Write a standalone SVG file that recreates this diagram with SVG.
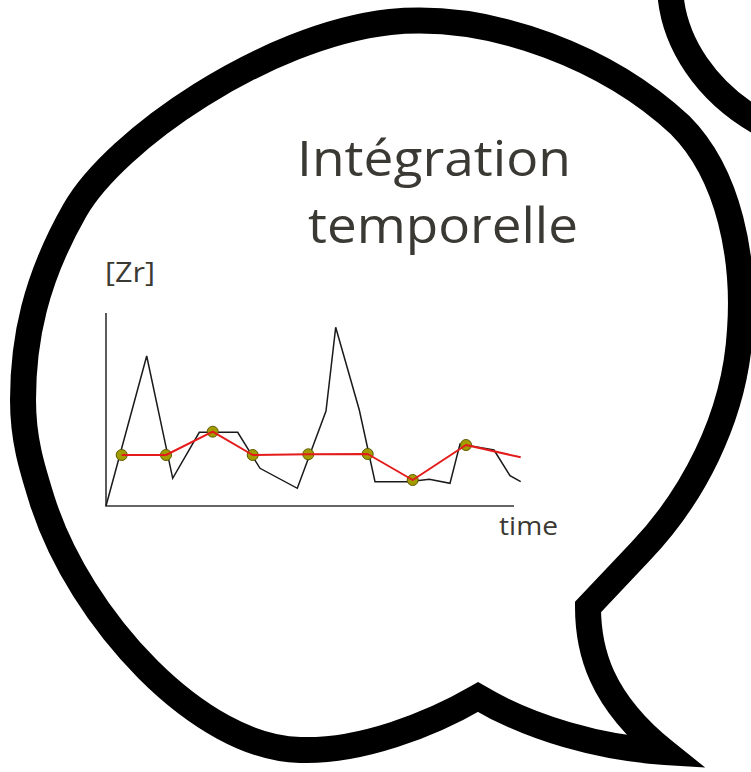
<svg xmlns="http://www.w3.org/2000/svg" width="751" height="772" viewBox="0 0 751 772">
  <style>
    .bubble { fill: none; stroke: #000; stroke-width: 26; stroke-linejoin: miter; stroke-miterlimit: 12; }
    .label { font-family: "Open Sans", "DejaVu Sans", sans-serif; fill: #3b3933; }
    .axis { fill: none; stroke: #333; stroke-width: 1.6; }
    .data { fill: none; stroke: #1a1a1a; stroke-width: 1.5; stroke-linejoin: miter; }
    .mean { fill: none; stroke: #e41b1b; stroke-width: 2; stroke-linejoin: round; }
    .pt { fill: #a39c00; stroke: #5e5a00; stroke-width: 1; }
  </style>
  <rect x="0" y="0" width="751" height="772" fill="#ffffff"/>

  <g id="bubble-back">
    <path class="bubble" d="M 670,-12 C 672,40 705,95 770,128"/>
  </g>

  <g id="bubble">
    <path class="bubble" d="M 390,22 C 495,12 610,60 680,125 C 730,175 745,260 740,330 C 735,420 690,500 640,552 L 588,607 C 588,650 600,700 665,752 C 600,748 530,728 478,697 C 430,725 360,752 300,750 C 200,748 80,620 42,500 C 32,468 23,440 23,400 C 23,340 35,280 75,210 C 115,140 265,36 390,22 Z"/>
  </g>

  <g id="title">
    <text class="label" x="297" y="176" font-size="50" textLength="274" lengthAdjust="spacingAndGlyphs">Intégration</text>
    <text class="label" x="308" y="243" font-size="50" textLength="270" lengthAdjust="spacingAndGlyphs">temporelle</text>
  </g>

  <g id="chart">
    <text class="label" x="105" y="282" font-size="27" textLength="50" lengthAdjust="spacingAndGlyphs">[Zr]</text>
    <text class="label" x="499" y="535" font-size="26" textLength="59" lengthAdjust="spacingAndGlyphs">time</text>
    <polyline class="axis" points="106,313 106,506 514,506"/>
    <polyline class="data" points="106,506 146.7,356 172.7,478.3 199.3,432.3 237.7,432.3 260,468.3 297.3,488.3 326,411 335.7,327.3 359.3,410 375,481.7 408.3,481.7 429.3,479.3 450,483.3 460,444 494,450 510,475.7 520.7,481.7"/>
    <g id="points">
      <circle class="pt" cx="121.7" cy="455" r="5.5"/>
      <circle class="pt" cx="166" cy="455" r="5.5"/>
      <circle class="pt" cx="212.7" cy="431.7" r="5.5"/>
      <circle class="pt" cx="252.7" cy="455" r="5.5"/>
      <circle class="pt" cx="308.3" cy="454.3" r="5.5"/>
      <circle class="pt" cx="367.7" cy="454" r="5.5"/>
      <circle class="pt" cx="412.7" cy="480" r="5.5"/>
      <circle class="pt" cx="466" cy="445" r="5.5"/>
    </g>
    <polyline class="mean" points="121.7,455 166,455 212.7,431.7 252.7,455 308.3,454.3 367.7,454 412.7,480 466,445 520.7,457.3"/>
  </g>
</svg>
